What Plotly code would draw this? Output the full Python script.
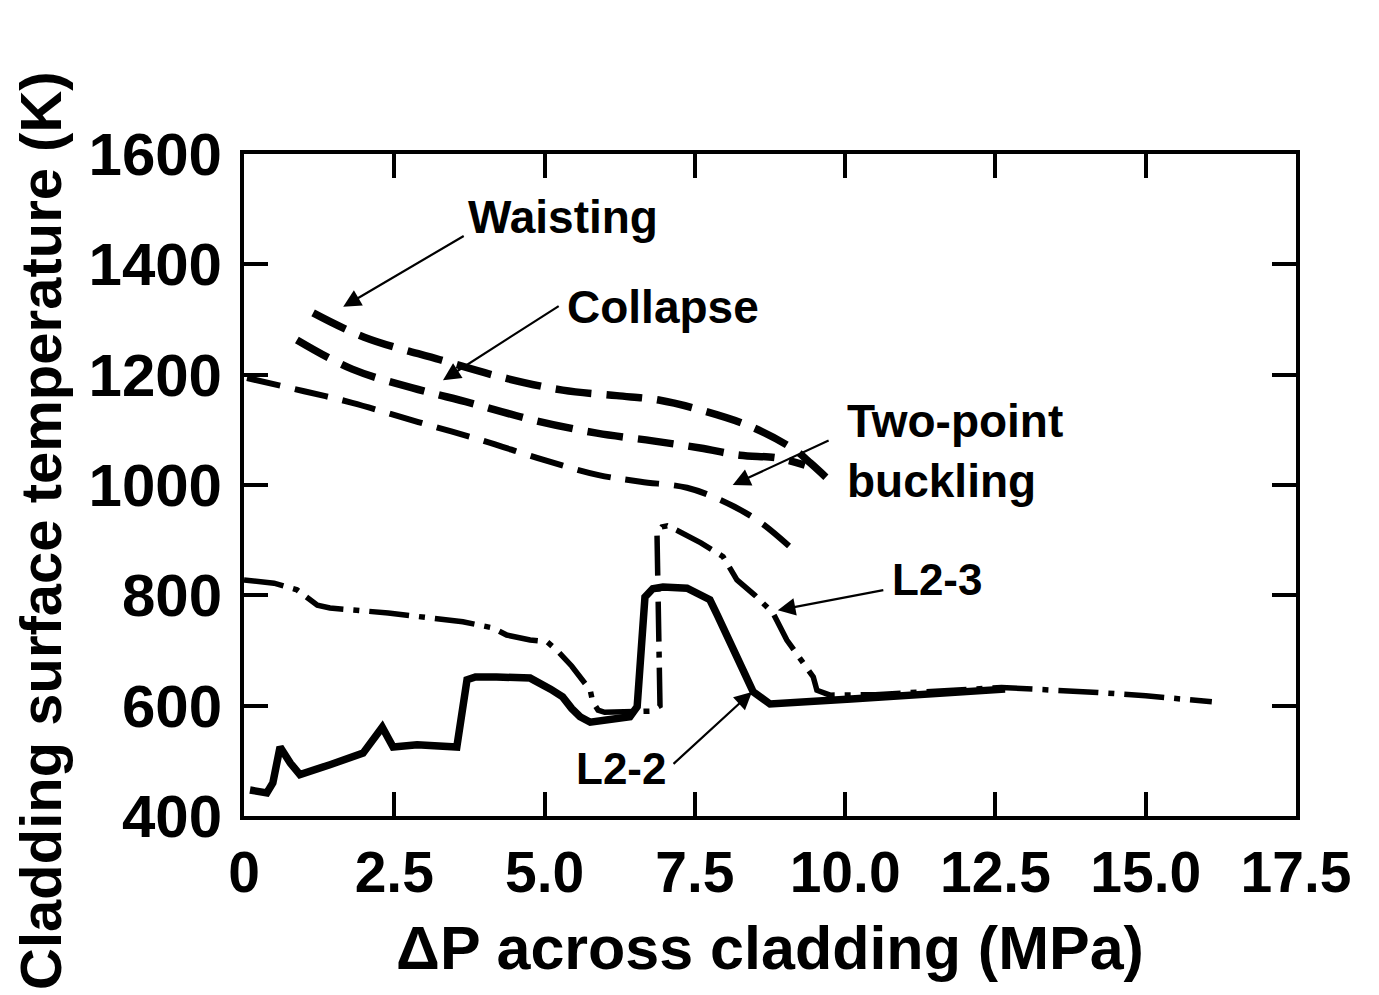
import plotly.graph_objects as go

# ---------------- data ----------------
waist_x = [1.15, 2.0, 3.26, 4.3, 5.3, 6.2, 6.9, 7.59, 8.45, 9.17, 9.42, 9.78]
waist_y = [1312, 1268, 1227, 1195, 1172, 1162, 1154, 1136, 1105, 1063, 1040, 1004]

coll_x = [0.88, 1.8, 2.8, 3.76, 4.8, 5.87, 6.8, 7.59, 8.25, 8.87, 9.33]
coll_y = [1263, 1210, 1176, 1149, 1118, 1094, 1080, 1067, 1054, 1049, 1036]

buck_x = [0.05, 1.0, 1.8, 2.9, 3.93, 5.0, 5.9, 6.6, 7.37, 7.92, 8.53, 9.08]
buck_y = [1194, 1170, 1149, 1114, 1082, 1045, 1018, 1006, 995, 973, 937, 888]

l23_x = [0.0, 0.5, 0.88, 1.22, 1.43, 2.4, 3.64, 4.14, 4.37, 4.76, 5.04, 5.2, 5.45, 5.65,
         5.76, 5.8, 5.89, 6.0, 6.5, 6.75, 6.92, 6.87, 6.95, 7.04, 7.2, 7.6, 7.97, 8.2, 8.5,
         8.8, 9.03, 9.25, 9.47, 9.53, 9.75, 10.5, 12.0, 12.6, 14.2, 15.0, 16.1]
l23_y = [828, 822, 810, 782, 777, 768, 752, 741, 728, 719, 716, 701, 672, 645,
         628, 607, 592, 588, 588, 590, 600, 913, 924, 926, 918, 895, 870, 828, 800,
         768, 719, 685, 652, 628, 619, 620, 630, 633, 624, 618, 607]

l22_x = [0.1, 0.38, 0.48, 0.6, 0.77, 0.93, 1.43, 1.98, 2.3, 2.48, 2.88, 3.54, 3.71, 3.85,
         4.2, 4.76, 5.1, 5.3, 5.45, 5.59, 5.76, 6.0, 6.42, 6.54, 6.67, 6.8, 6.97, 7.37, 7.6,
         7.75, 7.87, 7.95, 8.08, 8.2, 8.3, 8.47, 8.75, 10.1, 12.66]
l22_y = [447, 442, 460, 525, 496, 475, 493, 514, 561, 525, 529, 525, 647, 652,
         652, 650, 630, 616, 595, 580, 570, 573, 580, 598, 797, 812, 815, 813, 802,
         792, 765, 745, 714, 690, 665, 625, 603, 612, 630]

x_ticks = [0, 2.5, 5.0, 7.5, 10.0, 12.5, 15.0, 17.5]
x_tick_labels = ["0", "2.5", "5.0", "7.5", "10.0", "12.5", "15.0", "17.5"]
y_ticks = [400, 600, 800, 1000, 1200, 1400, 1600]
y_tick_labels = ["400", "600", "800", "1000", "1200", "1400", "1600"]

# ---------------- figure ----------------
INK = "black"
fig = go.Figure()

fig.add_trace(go.Scatter(x=waist_x, y=waist_y, mode="lines",
                         line=dict(color=INK, width=7.5, dash="36px,15px", shape="spline")))
fig.add_trace(go.Scatter(x=coll_x, y=coll_y, mode="lines",
                         line=dict(color=INK, width=7.5, dash="36px,15px", shape="spline")))
fig.add_trace(go.Scatter(x=buck_x, y=buck_y, mode="lines",
                         line=dict(color=INK, width=6, dash="34px,15px", shape="spline")))
fig.add_trace(go.Scatter(x=l23_x, y=l23_y, mode="lines",
                         line=dict(color=INK, width=5.5, dash="40px,10px,6px,10px")))
fig.add_trace(go.Scatter(x=l22_x, y=l22_y, mode="lines",
                         line=dict(color=INK, width=7.5)))

FONT = "Liberation Sans, Arial, sans-serif"

fig.update_layout(
    width=1379, height=995,
    margin=dict(l=244, r=83, t=154, b=179),
    paper_bgcolor="white", plot_bgcolor="white",
    showlegend=False,
    font=dict(family=FONT, color=INK),
)

fig.update_xaxes(
    range=[0, 17.5], tickvals=x_ticks, ticktext=x_tick_labels,
    showgrid=False, zeroline=False,
    showline=True, linecolor=INK, linewidth=4, mirror="ticks",
    ticks="inside", ticklen=24, tickwidth=4, tickcolor=INK,
    tickfont=dict(family=FONT, size=57, weight="bold", color=INK),
    ticklabelstandoff=4,
    title=dict(text="ΔP across cladding (MPa)",
               font=dict(family=FONT, size=61, weight="bold", color=INK), standoff=24),
)
fig.update_yaxes(
    range=[400, 1600], tickvals=y_ticks, ticktext=y_tick_labels,
    showgrid=False, zeroline=False,
    showline=True, linecolor=INK, linewidth=4, mirror="ticks",
    ticks="inside", ticklen=24, tickwidth=4, tickcolor=INK,
    tickfont=dict(family=FONT, size=60, weight="bold", color=INK),
    ticklabelstandoff=6,
)

# y-axis title (placed as paper annotation to match reference centring)
fig.add_annotation(xref="paper", yref="paper", x=-0.194, y=0.432,
                   text="Cladding surface temperature (K)", textangle=-90,
                   showarrow=False, xanchor="center", yanchor="middle",
                   font=dict(family=FONT, size=58, weight="bold", color=INK))

BIG = dict(family=FONT, size=46, weight="bold", color=INK)
SMALL = dict(family=FONT, size=44, weight="bold", color=INK)

labels = [
    dict(x=5.31, y=1486, text="Waisting", xanchor="center", font=BIG),
    dict(x=6.97, y=1323, text="Collapse", xanchor="center", font=BIG),
    dict(x=10.0, y=1062, text="Two-point<br>buckling", xanchor="left", align="left", font=BIG),
    dict(x=11.53, y=828, text="L2-3", xanchor="center", font=SMALL),
    dict(x=6.27, y=487, text="L2-2", xanchor="center", font=SMALL),
]
for lab in labels:
    fig.add_annotation(xref="x", yref="y", showarrow=False, yanchor="middle", **lab)

arrows = [
    (1.65, 1323, 3.68, 1453),
    (3.31, 1190, 5.26, 1326),
    (8.13, 1000, 9.75, 1082),
    (8.88, 773, 10.66, 810),
    (8.45, 625, 7.12, 492),
]
for hx, hy, tx, ty in arrows:
    fig.add_annotation(x=hx, y=hy, ax=tx, ay=ty, xref="x", yref="y", axref="x", ayref="y",
                       text="", showarrow=True, arrowhead=2, arrowsize=1.6, arrowwidth=2.2,
                       arrowcolor=INK, standoff=0, startstandoff=0)

fig.write_html("out.html")
